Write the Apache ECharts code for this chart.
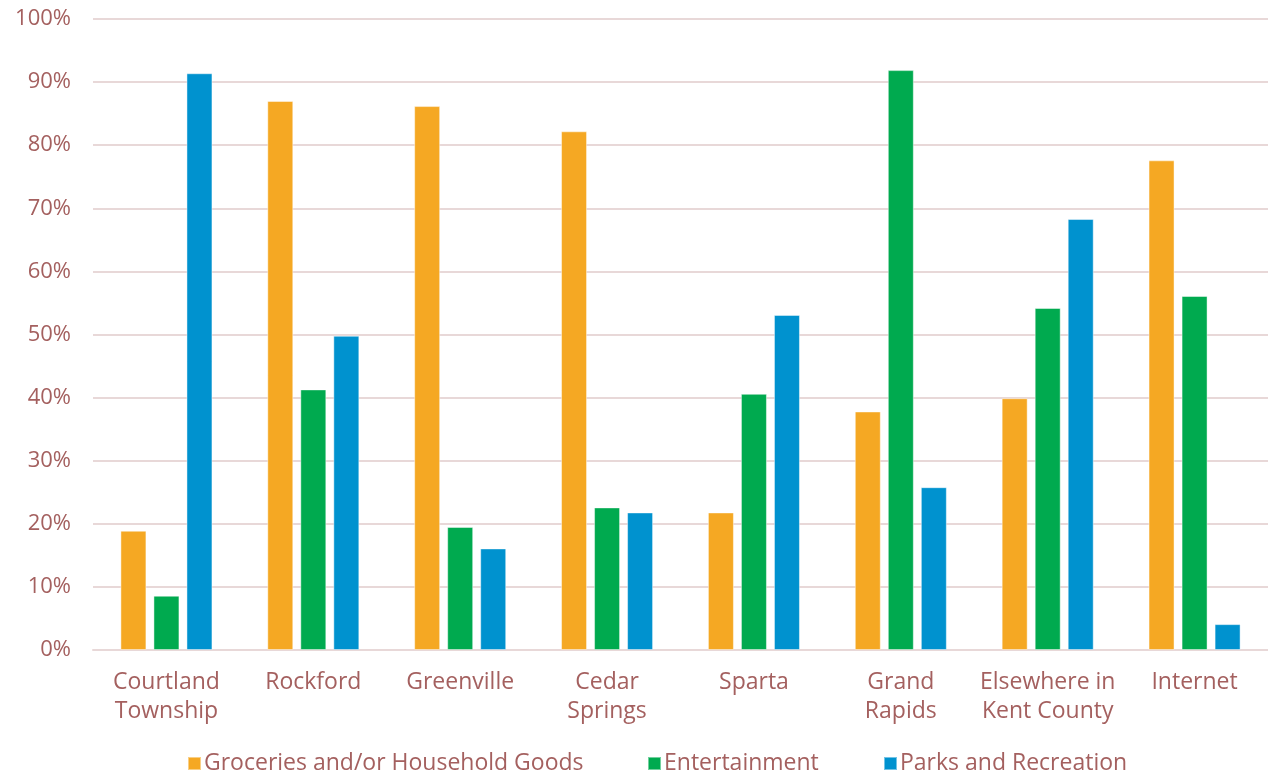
<!DOCTYPE html>
<html>
<head>
<meta charset="utf-8">
<script src="https://cdn.jsdelivr.net/npm/echarts@6/dist/echarts.min.js"></script>
<style>
html,body{margin:0;padding:0;background:#fff;}
#chart{width:1268px;height:776px;}
</style>
</head>
<body>
<div id="chart"></div>
<script>
const categories = ["Courtland\nTownship", "Rockford", "Greenville", "Cedar\nSprings", "Sparta", "Grand\nRapids", "Elsewhere in\nKent County", "Internet"];
const groceries = [18.9, 87.0, 86.2, 82.2, 21.8, 37.8, 39.9, 77.6];
const entertainment = [8.6, 41.3, 19.5, 22.6, 40.6, 91.9, 54.2, 56.1];
const parks = [91.4, 49.8, 16.1, 21.8, 53.1, 25.8, 68.3, 4.1];
const seriesNames = ["Groceries and/or Household Goods", "Entertainment", "Parks and Recreation"];
const colors = ["#F5A823", "#00AA4F", "#0092CF"];

const textColor = "#A4605F";
const fontFamily = "'Open Sans', sans-serif";
const legendLefts = [187, 647, 883];
const chart = echarts.init(document.getElementById('chart'));
const mk = (name, data, color) => ({
  name, type: 'bar', data, barWidth: 26, barGap: '27%',
  itemStyle: {color, borderColor: 'rgba(255,255,255,0.45)', borderWidth: 1},
  emphasis: {disabled: true}
});
chart.setOption({
  animation: false,
  color: colors,
  textStyle: {fontFamily},
  grid: {left: 93, top: 19, width: 1179, height: 631, containLabel: false},
  legend: seriesNames.map((n, i) => ({
    top: 752, left: legendLefts[i], padding: 0,
    itemWidth: 13, itemHeight: 13,
    icon: 'rect',
    textStyle: {color: textColor, fontSize: 23, fontFamily, padding: [0,0,0,-2]},
    data: [n]
  })),
  xAxis: {
    type: 'category', data: categories,
    axisLine: {show: true, lineStyle: {color: '#E8D8D8', width: 2}},
    axisTick: {show: false},
    axisLabel: {color: textColor, fontSize: 23, fontFamily, margin: 18, lineHeight: 29, interval: 0}
  },
  yAxis: {
    type: 'value', min: 0, max: 100, interval: 10,
    axisLine: {show: false}, axisTick: {show: false},
    splitLine: {lineStyle: {color: '#E8D8D8', width: 2}},
    axisLabel: {color: textColor, fontSize: 22, fontFamily, margin: 22, formatter: v => v + '%'}
  },
  series: [mk(seriesNames[0], groceries, colors[0]), mk(seriesNames[1], entertainment, colors[1]), mk(seriesNames[2], parks, colors[2])]
});
</script>
</body>
</html>
